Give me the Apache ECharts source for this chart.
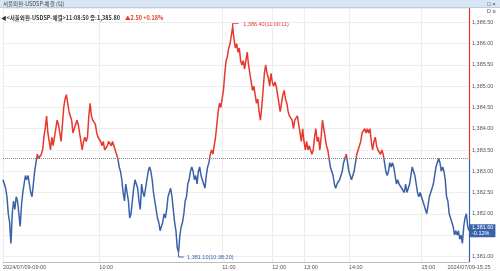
<!DOCTYPE html>
<html><head><meta charset="utf-8">
<script src="https://cdn.jsdelivr.net/npm/echarts@6/dist/echarts.min.js"></script>
<style>html,body{margin:0;padding:0;background:#fff}#c{width:500px;height:271px}</style>
</head><body><div id="c"></div>
<script>
// ---- data (tick prices, grouped by hour) ----
const dateLabel = '2024/07/09';
const endTime = '15:25';
const hours = ['09:00','10:00','11:00','12:00','13:00','14:00','15:00'];
const h09 = [1382.8,1382.8,1382.6,1382.4,1382.0,1381.8,1381.3,1382.0,1382.3,1382.1,
  1382.4,1382.3,1382.0,1381.7,1382.2,1382.5,1382.7,1382.9,1382.8,1382.9,
  1382.7,1382.5,1382.4,1382.7,1383.0,1383.2,1383.4,1383.3,1383.3,1383.4,
  1383.5,1383.8,1384.0,1384.3,1383.9,1383.7,1383.5,1383.8,1383.6,1383.8,
  1384.0,1384.2,1384.1,1383.9,1383.7,1384.1,1384.5,1384.7,1384.8,1384.6,
  1384.4,1384.3,1384.2,1383.9,1384.0,1384.1,1384.2,1384.1,1383.9,1383.7,
  1383.5,1383.7,1383.8,1383.7,1383.8,1384.3,1384.6,1384.3,1384.2,1384.2,
  1384.1,1383.9,1383.8];
const h10 = [1383.8,1383.7,1383.6,1383.7,1383.5,1383.5,1383.6,1383.7,1383.7,1383.6,
  1383.7,1383.6,1383.5,1383.4,1383.3,1383.1,1383.0,1382.8,1382.5,1382.3,
  1382.7,1382.5,1382.3,1381.9,1382.0,1382.3,1382.6,1382.8,1382.7,1382.6,
  1382.3,1382.1,1382.7,1382.5,1382.4,1382.6,1382.8,1383.0,1383.1,1383.0,
  1382.8,1382.5,1382.3,1382.1,1381.9,1381.8,1381.6,
  1381.7,1381.8,1382.0,1381.9,1382.1,1382.4,1382.5,1382.6,1382.4,1382.1,
  1381.8,1381.6,1381.2,1381.1,1381.5,1381.7,1381.8,1382.0,1382.3,1382.4,
  1382.7,1382.8,1383.0,1383.1,1383.0,1382.8,1382.9,1382.7,1383.0,1383.1,
  1382.9,1382.8,1382.8,1382.6,1382.9,1383.1,1383.2,1383.4,1383.5,1383.4,
  1383.6,1383.8,1384.1,1384.4,1384.6,1384.5];
const h11 = [1384.7,1384.9,1385.3,1385.6,1385.7,1385.9,1386.0,1386.2,1386.4,1386.1,
  1385.9,1386.0,1385.8,1385.9,1385.6,1385.5,1385.6,1385.4,1385.6,1385.8,
  1385.5,1385.3,1385.1,1384.9,1385.0,1384.8,1384.6,1384.7,1384.4,1384.2,
  1384.5,1384.9,1385.3,1385.5,1385.3,1385.2,1385.0,1385.3];
const h12 = [1385.1,1385.0,1385.1,1385.0,1384.8,1384.6,1384.4,1384.6,1384.8,1384.9,
  1384.7,1384.6,1384.4,1384.3,1384.3,1384.2,1384.0,1384.2,1384.2,1384.3,
  1384.1,1383.9,1383.7,1384.0];
const h13 = [1383.7,1383.5,1383.7,1383.5,1383.6,1383.5,1383.4,1383.5,
  1383.8,1384.0,1383.7,1383.8,1383.5,1383.8,1384.2,1384.0,1383.8,1383.6,
  1383.5,1383.3,1383.1,1383.0,1382.9,1382.7,1382.6,1382.7,1382.7,1382.8,
  1382.9,1383.0,1383.2,1383.3,1383.4,1383.2];
const h14 = [1383.0,1382.9,1382.8,1382.9,1383.0,1383.2,1383.4,1383.5,1383.5,1383.7,
  1383.9,1383.9,1384.0,1383.9,1384.0,1383.9,1384.0,1383.7,1383.5,1383.7,
  1383.8,1383.6,1383.5,1383.5,1383.4,1383.5,1383.4,1383.2,1383.0,1382.9,
  1383.0,1383.2,1383.1,1383.2,1383.1,1382.9,1382.7,1382.8,1382.7,1382.7,
  1382.6,1382.6,1382.5,1382.7,1382.5,1382.6,1382.7,1382.9,1383.1,1383.1,
  1382.9,1382.7,1382.5,1382.4,1382.5];
const h15 = [1382.4,1382.3,1382.2,1382.1,1382.0,1382.2,1382.4,1382.4,1382.6,1382.7,
  1382.9,1383.1,1383.2,1383.3,1383.2,1383.0,1383.1,1383.0,1382.8,1382.4,
  1382.3,1382.0,1381.9,1381.8,1381.7,1381.5,1381.6,1381.5,1381.6,1381.4,
  1381.5,1381.3,1381.7,1381.9,1382.0,1381.7,1381.6];
const prevClose = 1383.30;
const maxTime = '11:00:11';
const minTime = '10:38:20';
const headerTitle = '서울외환-USDSP-체결 (틱)';
const headerInfo = '◀<서울외환-USDSP-체결>11:08:50 종:1,385.80';
const headerChange = '▲2.50 +0.18%';

// ---- build ----
const segs = [h09,h10,h11,h12,h13,h14,h15];
const values = [].concat(...segs);
const labels = [];
segs.forEach((s,k)=>s.forEach((v,i)=>labels.push(i===0?hours[k]:'')));
const lastIdx = values.length-1;
labels[0] = dateLabel + '-' + hours[0];
const cats = labels.map((l,i)=> i===lastIdx ? {value: dateLabel+'-'+endTime, textStyle:{align:'center'}} : l);
const lastVal = values[lastIdx];
const yMin = 1380.865, yMax = 1386.84;
const RED = '#e5392d', BLUE = '#3a62a8';
const SANS = "'Liberation Sans',Arial,sans-serif";
const KR = "'Noto Sans CJK KR','Liberation Sans',sans-serif";
const FS = 5.5;
function fmt(v){ return v.toFixed(2).replace(/\B(?=(\d{3})+(?!\d))/g, ','); }
const pct = ((lastVal-prevClose)/prevClose*100).toFixed(2) + '%';

const chart = echarts.init(document.getElementById('c'), null, {renderer:'canvas'});
chart.setOption({
  animation:false,
  backgroundColor:'#fff',
  title:{
    text:'{a|'+headerInfo+'} {r|'+headerChange+'}', left:1, top:9, padding:0,
    textStyle:{ rich:{ a:{fontSize:FS, color:'#333', fontFamily:KR}, r:{fontSize:FS, color:RED, fontFamily:KR} } }
  },
  graphic:[
    {type:'rect', shape:{x:0,y:0,width:500,height:7.5}, style:{fill:'#d8e6f4'}, z:-1},
    {type:'line', shape:{x1:0,y1:7.5,x2:500,y2:7.5}, style:{stroke:'#b9cfe6', lineWidth:1}},
    {type:'text', x:3, y:4, style:{text:headerTitle, fontSize:FS, fill:'#444', fontFamily:KR, verticalAlign:'middle'}},
    {type:'text', x:487, y:4, style:{text:'□ ×', fontSize:6, fill:'#444', fontFamily:SANS, verticalAlign:'middle'}},
    {type:'text', x:487, y:11.5, style:{text:'D ≡', fontSize:5.5, fill:'#555', fontFamily:SANS, verticalAlign:'middle'}}
  ],
  grid:{left:0, right:31, top:8, bottom:9, containLabel:false},
  xAxis:{
    type:'category', boundaryGap:false, data:cats,
    axisLine:{show:true, lineStyle:{color:'#bbb', width:1}},
    axisTick:{show:false},
    axisLabel:{ interval:(i,v)=>v!=='', align:'left', margin:2.5, fontSize:FS, color:'#555', fontFamily:SANS, hideOverlap:false },
    splitLine:{ show:true, interval:(i,v)=>v!=='', lineStyle:{color:'#ececec', width:1} }
  },
  yAxis:{
    type:'value', position:'right', min:yMin, max:yMax, splitNumber:12, scale:true,
    axisLine:{show:false}, axisTick:{show:false},
    axisLabel:{ margin:3, fontSize:FS, color:'#555', fontFamily:SANS, showMinLabel:false, showMaxLabel:false,
      formatter:v=> Math.abs(v*2-Math.round(v*2))<1e-6 ? fmt(v) : '' },
    splitLine:{ lineStyle:{color:'#eeeeee', width:1} }
  },
  visualMap:{ show:false, type:'piecewise', dimension:1, seriesIndex:0,
    pieces:[{gt:prevClose, lte:yMax+5, color:RED},{gte:yMin-5, lte:prevClose, color:BLUE}] },
  series:[{
    type:'line', data:values, symbol:'none', showSymbol:false, clip:false,
    lineStyle:{width:1.5},
    markLine:{ silent:true, symbol:['none','none'], animation:false, label:{show:false},
      data:[
        {yAxis:prevClose, lineStyle:{color:'#888', type:'dotted', width:1}},
        [{coord:[lastIdx, yMax], lineStyle:{color:RED, type:'solid', width:1.2}}, {coord:[lastIdx, prevClose]}],
        [{coord:[lastIdx, prevClose], lineStyle:{color:BLUE, type:'solid', width:1.2}}, {coord:[lastIdx, yMin]}],
        {yAxis:lastVal, lineStyle:{width:1, color:'rgba(0,0,0,0)', type:'solid'},
          label:{show:true, position:'end', distance:1, formatter:()=>fmt(lastVal)+'\n'+pct,
            backgroundColor:BLUE, color:'#fff', fontSize:FS, lineHeight:6, padding:[0.5,2,0.5,2], fontFamily:SANS}}
      ]},
    markPoint:{ animation:false, silent:true,
      data:[
        {type:'max', symbol:'path://M0,3 L0,0 L6,0', symbolSize:[6,3], symbolOffset:[3,-1.5],
          itemStyle:{color:'none', borderColor:RED, borderWidth:1},
          label:{show:true, position:'right', distance:1, color:RED, fontSize:FS, fontFamily:SANS,
            formatter:p=>fmt(p.value)+'('+maxTime+')', offset:[0,-1]}},
        {type:'min', symbol:'path://M0,0 L0,5 L5,5', symbolSize:[5,5], symbolOffset:[2.5,2.5],
          itemStyle:{color:'none', borderColor:BLUE, borderWidth:1},
          label:{show:true, position:'right', distance:1, color:BLUE, fontSize:FS, fontFamily:SANS,
            formatter:p=>fmt(p.value)+'('+minTime+')', offset:[0,2.5]}}
      ]}
  }]
});
</script></body></html>
